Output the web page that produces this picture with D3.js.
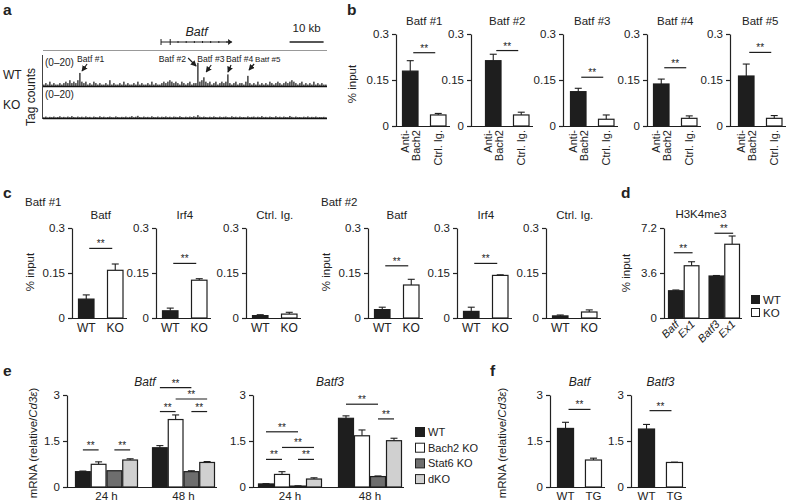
<!DOCTYPE html>
<html>
<head>
<meta charset="utf-8">
<script src="https://cdn.jsdelivr.net/npm/d3@7"></script>
<style>
  body { margin: 0; background: #fff; }
  svg { font-family: "Liberation Sans", Arial, Helvetica, sans-serif; }
  text { fill: #222; }
  .axis path, .axis line { stroke: #222; stroke-width: 1.2; }
  .axis text { font-size: 11.5px; fill: #222; font-family: "Liberation Sans", Arial, sans-serif; }
</style>
</head>
<body>
<div id="chart"></div>
<script>
// ---- a: ChIP-seq tag counts (0-20) in 142 bins across the locus ----
var trackSpanKb = 83.5;
var trackWT = [1,2,1,3,1,2,1,1,2,1, 2,3,2,4,2,3,2,4,9,3, 2,3,1,2,1,3,2,1,2,1,
  1,2,1,4,1,2,1,1,2,1, 3,1,2,1,1,2,1,3,1,2, 1,1,2,1,3,1,2,1,1,2,
  3,2,3,4,3,2,3,2,1,3, 2,1,2,3,1,2,2,16,3,4, 6,3,2,3,1,2,3,1,2,3,
  2,3,8,2,1,2,3,1,2,2, 1,3,7,2,1,2,1,3,1,2, 1,2,1,3,2,1,2,3,2,1,
  2,3,2,3,4,3,2,1,2,3, 1,2,1,2,1,3,1,2,1,2, 1,1];
var trackKO = [.5,1,.4,.8,.6,1,.5,.7,1.2,.5, .8,.5,1,.6,1.3,.7,.5,1,.6,.9,
  .5,1.1,.6,.8,.4,1,.7,.5,1.2,.6, .9,.5,.7,1,.6,.5,1.1,.7,.5,.8,
  .6,1,.5,.8,1.3,.6,.9,1.5,.7,.5, 1,.6,.8,.5,1.2,.7,.6,1,.5,.9,
  .7,1.1,.6,.9,.5,1,.8,.6,1.2,.7, .5,.9,.6,1,.7,1.2,.8,2,.9,.6,
  1,.7,.5,.9,.6,1.1,.7,.5,1,.6, .8,1,.6,.5,1.2,.7,.9,.5,1,.6,
  .7,.5,1.1,.6,.8,1,.5,.9,.6,1.3, .6,.8,.5,1,.7,.5,1.2,.6,.9,.5,
  1,.7,.6,1.4,.8,.5,1,.6,.7,.5, .9,.6,1.1,.5,.8,.6,1,.5,.7,.6, .8,.5];
var geneKb = [34.7, 55.6];
var peakNames = ["Batf #1", "Batf #2", "Batf #3", "Batf #4", "Batf #5"];
var peakKb = [10.9, 45.6, 47.4, 54.1, 60.0];

// ---- b: Bach2 ChIP ----
var bSites = ["Batf #1", "Batf #2", "Batf #3", "Batf #4", "Batf #5"];
var bGroups = ["Anti-Bach2", "Ctrl. Ig."];
var bMean = [[0.179, 0.036], [0.213, 0.036], [0.112, 0.022], [0.137, 0.025], [0.163, 0.025]];
var bErr  = [[0.034, 0.005], [0.021, 0.009], [0.011, 0.014], [0.016, 0.008], [0.039, 0.009]];
var bSig  = [0.239, 0.246, 0.159, 0.19, 0.24];

// ---- c: ChIP at Batf #1 / #2 ----
var cSites = ["Batf #1", "Batf #2"];
var cAntibodies = ["Batf", "Irf4", "Ctrl. Ig."];
var cGenotypes = ["WT", "KO"];
var cMean = [[[0.063, 0.159], [0.024, 0.126], [0.008, 0.013]],
             [[0.028, 0.110], [0.022, 0.142], [0.007, 0.020]]];
var cErr  = [[[0.014, 0.021], [0.009, 0.005], [0.003, 0.006]],
             [[0.008, 0.019], [0.014, 0.002], [0.003, 0.007]]];
var cSig  = [[0.232, 0.182, null], [0.174, 0.182, null]];

// ---- d: H3K4me3 ----
var dRegions = [["Batf", "Ex1"], ["Batf3", "Ex1"]];
var dGenotypes = ["WT", "KO"];
var dMean = [[2.18, 4.18], [3.36, 5.90]];
var dErr  = [[0.06, 0.32], [0.04, 0.66]];
var dSig  = [5.22, 6.78];

// ---- e: mRNA time course ----
var eGenes = ["Batf", "Batf3"];
var eTimes = ["24 h", "48 h"];
var eStrains = ["WT", "Bach2 KO", "Stat6 KO", "dKO"];
var eBatfMean  = [[0.50, 0.74, 0.53, 0.88], [1.28, 2.20, 0.50, 0.80]];
var eBatfErr   = [[0.02, 0.08, 0.00, 0.04], [0.07, 0.15, 0.03, 0.03]];
var eBatf3Mean = [[0.10, 0.41, 0.03, 0.26], [2.24, 1.67, 0.34, 1.51]];
var eBatf3Err  = [[0.01, 0.09, 0.01, 0.04], [0.08, 0.19, 0.02, 0.08]];
var eSig = [
  ["Batf", "24 h", "WT", "Bach2 KO", 1.21], ["Batf", "24 h", "Stat6 KO", "dKO", 1.21],
  ["Batf", "48 h", "WT", "Stat6 KO", 3.24], ["Batf", "48 h", "Bach2 KO", "dKO", 2.87],
  ["Batf", "48 h", "WT", "Bach2 KO", 2.46], ["Batf", "48 h", "Stat6 KO", "dKO", 2.46],
  ["Batf3", "24 h", "WT", "Stat6 KO", 1.80], ["Batf3", "24 h", "Bach2 KO", "dKO", 1.29],
  ["Batf3", "24 h", "WT", "Bach2 KO", 0.90], ["Batf3", "24 h", "Stat6 KO", "dKO", 0.90],
  ["Batf3", "48 h", "WT", "Stat6 KO", 2.70], ["Batf3", "48 h", "Stat6 KO", "dKO", 2.22]
];

// ---- f: transgenic ----
var fGenes = ["Batf", "Batf3"];
var fGroups = ["WT", "TG"];
var fMean = [[1.91, 0.88], [1.89, 0.80]];
var fErr  = [[0.20, 0.06], [0.15, 0.01]];
var fSig  = [2.53, 2.49];

var INK = "#1e1e1e";
var W = 788, H = 502;
var svg = d3.select("#chart").append("svg").attr("width", W).attr("height", H);
svg.append("rect").attr("width", W).attr("height", H).attr("fill", "#fff");

svg.append("defs").append("marker")
  .attr("id", "arr").attr("viewBox", "0 0 8 8").attr("refX", 7).attr("refY", 4)
  .attr("markerWidth", 5).attr("markerHeight", 5).attr("orient", "auto")
  .append("path").attr("d", "M0,0L8,4L0,8z").attr("fill", INK);

function txt(g, s, x, y, size, anchor, style) {
  return g.append("text").attr("x", x).attr("y", y).attr("font-size", size || 11)
    .attr("text-anchor", anchor || "start").attr("font-style", style || null).text(s);
}
function vlabel(g, s, cx, cy, size) {
  return g.append("text").attr("transform", "translate(" + cx + "," + cy + ") rotate(-90)")
    .attr("text-anchor", "middle").attr("dy", "0.35em").attr("font-size", size || 11).text(s);
}
function letter(s, x, y) {
  svg.append("text").attr("x", x).attr("y", y).attr("font-size", 15.5)
    .attr("font-weight", "bold").text(s);
}
function axes(g, y, ax, x1, ticks) {
  g.append("g").attr("class", "axis").attr("transform", "translate(" + ax + ",0)")
    .call(d3.axisLeft(y).tickValues(ticks).tickSize(4).tickSizeOuter(0)
      .tickFormat(function(d) { return String(d); }));
  g.append("line").attr("x1", ax).attr("x2", x1).attr("y1", y(0) + 0.5).attr("y2", y(0) + 0.5)
    .attr("stroke", INK).attr("stroke-width", 1.2);
}
// items: {x, w, v, e, fill}
function bars(g, y, items) {
  var sel = g.selectAll(null).data(items).enter().append("g");
  sel.filter(function(d) { return d.e > 0; }).each(function(d) {
    var cx = d.x + d.w / 2, yt = y(d.v + d.e);
    d3.select(this).append("line").attr("x1", cx).attr("x2", cx)
      .attr("y1", y(d.v)).attr("y2", yt).attr("stroke", INK).attr("stroke-width", 1.1);
    d3.select(this).append("line").attr("x1", cx - 3.5).attr("x2", cx + 3.5)
      .attr("y1", yt).attr("y2", yt).attr("stroke", INK).attr("stroke-width", 1.1);
  });
  sel.append("rect")
    .attr("x", function(d) { return d.x + 0.5; })
    .attr("width", function(d) { return d.w - 1; })
    .attr("y", function(d) { return y(d.v); })
    .attr("height", function(d) { return Math.max(0.5, y(0) - y(d.v)); })
    .attr("fill", function(d) { return d.fill; })
    .attr("stroke", INK).attr("stroke-width", 1.2);
}
function sig(g, x1, x2, yp) {
  g.append("line").attr("x1", x1).attr("x2", x2).attr("y1", yp).attr("y2", yp)
    .attr("stroke", INK).attr("stroke-width", 1.2);
  txt(g, "**", (x1 + x2) / 2, yp - 1, 10, "middle");
}

// ================= a =================
letter("a", 3, 15);
var ga = svg.append("g");
var kb = d3.scaleLinear().domain([0, trackSpanKb]).range([43, 327]);
var binKb = trackSpanKb / trackWT.length;
var trackBase = [86, 118];
[trackWT, trackKO].forEach(function(data, t) {
  var base = trackBase[t];
  var ty = d3.scaleLinear().domain([0, 20]).range([base, base - 29]);
  ga.selectAll(null).data(data).enter().append("rect")
    .attr("x", function(d, i) { return kb(i * binKb) + 0.3; })
    .attr("width", 1.2)
    .attr("y", function(d) { return ty(d); })
    .attr("height", function(d) { return base - ty(d); })
    .attr("fill", "#111");
  ga.append("line").attr("x1", 43).attr("x2", 327).attr("y1", base + 0.5).attr("y2", base + 0.5)
    .attr("stroke", "#111").attr("stroke-width", 1.3);
  ga.append("line").attr("x1", 42.5).attr("x2", 42.5).attr("y1", base - 31).attr("y2", base + 1)
    .attr("stroke", "#444");
  txt(ga, "(0\u201320)", 45, base - 20, 10);
  if (t === 0) {
    // peak annotations
    var lay = [
      {tx: -3, anchor: "start", ax1: 7, ay1: 64, ax2: 2, ay2: 71},
      {tx: -12, anchor: "end", ax1: -10, ay1: 58, ax2: -2, ay2: 66},
      {tx: -7, anchor: "start", ax1: 7, ay1: 65, ax2: 2, ay2: 72},
      {tx: -1, anchor: "start", ax1: 4, ay1: 65, ax2: 1, ay2: 72},
      {tx: 8, anchor: "start", ax1: 7, ay1: 64, ax2: 2, ay2: 70}
    ];
    peakKb.forEach(function(p, i) {
      var px = kb(p), L = lay[i];
      txt(ga, peakNames[i], px + L.tx, 62, i === 4 ? 8 : 8.6, L.anchor);
      ga.append("line").attr("x1", px + L.ax1).attr("y1", L.ay1).attr("x2", px + L.ax2).attr("y2", L.ay2)
        .attr("stroke", INK).attr("stroke-width", 1.2).attr("marker-end", "url(#arr)");
    });
  }
});
txt(ga, "WT", 3, 79, 12);
txt(ga, "KO", 3, 109, 12);
vlabel(ga, "Tag counts", 31, 97, 12);
ga.append("line").attr("x1", 43).attr("x2", 327).attr("y1", 50.5).attr("y2", 50.5)
  .attr("stroke", "#999");
// gene model
var gx0 = kb(geneKb[0]), gx1 = kb(geneKb[1]);
ga.append("line").attr("x1", gx0).attr("x2", gx1).attr("y1", 42).attr("y2", 42).attr("stroke", INK);
[geneKb[0], geneKb[0] + 2.7].forEach(function(k) {
  ga.append("line").attr("x1", kb(k)).attr("x2", kb(k)).attr("y1", 39).attr("y2", 45).attr("stroke", INK);
});
d3.range(geneKb[0] + 5, geneKb[1] - 1, 2.4).forEach(function(k) {
  ga.append("line").attr("x1", kb(k)).attr("x2", kb(k)).attr("y1", 41).attr("y2", 43).attr("stroke", INK);
});
ga.append("path").attr("d", "M" + (gx1 - 4) + ",39L" + gx1 + ",42L" + (gx1 - 4) + ",45z").attr("fill", INK);
txt(ga, "Batf", (gx0 + gx1) / 2, 36, 12.5, "middle", "italic");
// scale bar
ga.append("line").attr("x1", kb(72.5)).attr("x2", kb(82.5)).attr("y1", 42).attr("y2", 42)
  .attr("stroke", INK).attr("stroke-width", 1.3);
txt(ga, "10 kb", kb(77.5), 32, 11.5, "middle");

// ================= b =================
letter("b", 347, 15);
var gb = svg.append("g");
var yb = d3.scaleLinear().domain([0, 0.3]).range([126, 34]);
var bAxisX = [396, 471, 563, 647, 730];
var bBarX = [402, 485, 570, 653, 738];
bSites.forEach(function(site, i) {
  var xb = d3.scaleBand().domain(bGroups).range([bBarX[i], bBarX[i] + 44.5]).paddingInner(0.41);
  axes(gb, yb, bAxisX[i], bBarX[i] + 48, [0, 0.15, 0.3]);
  bars(gb, yb, bGroups.map(function(gr, j) {
    return {x: xb(gr), w: xb.bandwidth(), v: bMean[i][j], e: bErr[i][j], fill: j ? "#fff" : INK};
  }));
  var c0 = xb(bGroups[0]) + xb.bandwidth() / 2, c1 = xb(bGroups[1]) + xb.bandwidth() / 2;
  sig(gb, c0 + 3, c1 - 3, yb(bSig[i]));
  txt(gb, site, (c0 + c1) / 2, 25, 11.5, "middle");
  // rotated category labels
  var t0 = gb.append("text").attr("transform", "translate(" + c0 + ",130) rotate(-90)")
    .attr("text-anchor", "end").attr("font-size", 11);
  t0.append("tspan").attr("x", 0).attr("y", -1).text("Anti-");
  t0.append("tspan").attr("x", 0).attr("y", 9.5).text("Bach2");
  gb.append("text").attr("transform", "translate(" + c1 + ",130) rotate(-90)")
    .attr("text-anchor", "end").attr("font-size", 11).attr("y", 4).text("Ctrl. Ig.");
});
vlabel(gb, "% input", 352, 84, 11.5);

// ================= c =================
letter("c", 3, 198);
var gc = svg.append("g");
var yc = d3.scaleLinear().domain([0, 0.3]).range([318, 228]);
var cAxisX = [[72, 156, 246], [368, 457, 546]];
cSites.forEach(function(site, s) {
  txt(gc, site, cAxisX[s][0] - 47, 206, 11.5);
  vlabel(gc, "% input", cAxisX[s][0] - 42, 272, 11.5);
  cAntibodies.forEach(function(ab, k) {
    var ax = cAxisX[s][k];
    var xc = d3.scaleBand().domain(cGenotypes).range([ax + 6, ax + 51.5]).paddingInner(0.431);
    axes(gc, yc, ax, ax + 55, [0, 0.15, 0.3]);
    bars(gc, yc, cGenotypes.map(function(gt, j) {
      return {x: xc(gt), w: xc.bandwidth(), v: cMean[s][k][j], e: cErr[s][k][j], fill: j ? "#fff" : INK};
    }));
    var c0 = xc("WT") + xc.bandwidth() / 2, c1 = xc("KO") + xc.bandwidth() / 2;
    if (cSig[s][k] !== null) sig(gc, c0 + 3, c1 - 3, yc(cSig[s][k]));
    txt(gc, ab, (c0 + c1) / 2, 219, 11.5, "middle");
    cGenotypes.forEach(function(gt) {
      txt(gc, gt, xc(gt) + xc.bandwidth() / 2, 332, 12, "middle");
    });
  });
});

// ================= d =================
letter("d", 621, 198);
var gd = svg.append("g");
var yd = d3.scaleLinear().domain([0, 7.2]).range([318, 228]);
var xdOuter = d3.scaleBand().domain([0, 1]).range([668, 740]).paddingInner(0.225);
var xdInner = d3.scaleBand().domain(dGenotypes).range([0, xdOuter.bandwidth()]);
axes(gd, yd, 664, 742, [0, 3.6, 7.2]);
dRegions.forEach(function(reg, r) {
  bars(gd, yd, dGenotypes.map(function(gt, j) {
    return {x: xdOuter(r) + xdInner(gt), w: xdInner.bandwidth(), v: dMean[r][j], e: dErr[r][j], fill: j ? "#fff" : INK};
  }));
  var c0 = xdOuter(r) + xdInner.bandwidth() / 2, c1 = c0 + xdInner.bandwidth();
  sig(gd, c0 - 2, c1 + 1, yd(dSig[r]));
  dGenotypes.forEach(function(gt, j) {
    var cx = xdOuter(r) + xdInner(gt) + xdInner.bandwidth() / 2;
    gd.append("text").attr("transform", "translate(" + (cx + 4) + ",325) rotate(-45)")
      .attr("text-anchor", "end").attr("font-size", 11).attr("font-style", "italic").text(reg[j]);
  });
});
txt(gd, "H3K4me3", 701, 218, 11.5, "middle");
vlabel(gd, "% input", 626, 273, 11.5);
dGenotypes.forEach(function(gt, j) {
  gd.append("rect").attr("x", 751.5).attr("y", 295.5 + j * 13).attr("width", 8).attr("height", 8)
    .attr("fill", j ? "#fff" : INK).attr("stroke", INK);
  txt(gd, gt, 763, 303.5 + j * 13, 11.5);
});

// ================= e =================
letter("e", 3, 376);
var ge = svg.append("g");
var ye = d3.scaleLinear().domain([0, 3]).range([487, 395]);
var eFill = [INK, "#fff", "#6e6e6e", "#d0d0d0"];
var eAxisX = [67, 253];
var eRange = [[75, 215], [258, 402]];
var ePad = [0.182, 0.2];
var eMeans = [eBatfMean, eBatf3Mean], eErrs = [eBatfErr, eBatf3Err];
var eScales = {};
eGenes.forEach(function(gene, gi) {
  var xo = d3.scaleBand().domain(eTimes).range(eRange[gi]).paddingInner(ePad[gi]);
  var xi = d3.scaleBand().domain(eStrains).range([0, xo.bandwidth()]);
  eScales[gene] = {xo: xo, xi: xi};
  axes(ge, ye, eAxisX[gi], eRange[gi][1] + 2, [0, 1.5, 3]);
  var items = [];
  eTimes.forEach(function(tm, ti) {
    eStrains.forEach(function(st, si) {
      items.push({x: xo(tm) + xi(st), w: xi.bandwidth(), v: eMeans[gi][ti][si], e: eErrs[gi][ti][si], fill: eFill[si]});
    });
    txt(ge, tm, xo(tm) + xo.bandwidth() / 2, 500, 11.5, "middle");
  });
  bars(ge, ye, items);
  txt(ge, gene, (eRange[gi][0] + eRange[gi][1]) / 2, 386, 12, "middle", "italic");
});
eSig.forEach(function(s) {
  var sc = eScales[s[0]], base = sc.xo(s[1]), hw = sc.xi.bandwidth() / 2;
  sig(ge, base + sc.xi(s[2]) + hw, base + sc.xi(s[3]) + hw, ye(s[4]));
});
var eyl = ge.append("text").attr("transform", "translate(33,443) rotate(-90)")
  .attr("text-anchor", "middle").attr("dy", "0.35em").attr("font-size", 11.5);
eyl.append("tspan").text("mRNA (relative/");
eyl.append("tspan").attr("font-style", "italic").text("Cd3\u03b5");
eyl.append("tspan").text(")");
eStrains.forEach(function(st, i) {
  ge.append("rect").attr("x", 415.5).attr("y", 427.5 + i * 15.7).attr("width", 9).attr("height", 9)
    .attr("fill", eFill[i]).attr("stroke", INK);
  txt(ge, st, 428, 436 + i * 15.7, 11);
});

// ================= f =================
letter("f", 490, 376);
var gf = svg.append("g");
var yf = d3.scaleLinear().domain([0, 3]).range([487, 395]);
var fAxisX = [550, 631];
var fBarX = [557, 638];
fGenes.forEach(function(gene, gi) {
  var xf = d3.scaleBand().domain(fGroups).range([fBarX[gi], fBarX[gi] + 45]).paddingInner(0.39);
  axes(gf, yf, fAxisX[gi], fBarX[gi] + 48, [0, 1.5, 3]);
  bars(gf, yf, fGroups.map(function(gr, j) {
    return {x: xf(gr), w: xf.bandwidth(), v: fMean[gi][j], e: fErr[gi][j], fill: j ? "#fff" : INK};
  }));
  var c0 = xf("WT") + xf.bandwidth() / 2, c1 = xf("TG") + xf.bandwidth() / 2;
  sig(gf, c0 + 3, c1 - 3, yf(fSig[gi]));
  txt(gf, gene, (c0 + c1) / 2, 386, 12, "middle", "italic");
  fGroups.forEach(function(gr) { txt(gf, gr, xf(gr) + xf.bandwidth() / 2, 500, 11.5, "middle"); });
});
var fyl = gf.append("text").attr("transform", "translate(502,443) rotate(-90)")
  .attr("text-anchor", "middle").attr("dy", "0.35em").attr("font-size", 11.5);
fyl.append("tspan").text("mRNA (relative/");
fyl.append("tspan").attr("font-style", "italic").text("Cd3\u03b5");
fyl.append("tspan").text(")");
</script>
</body>
</html>
